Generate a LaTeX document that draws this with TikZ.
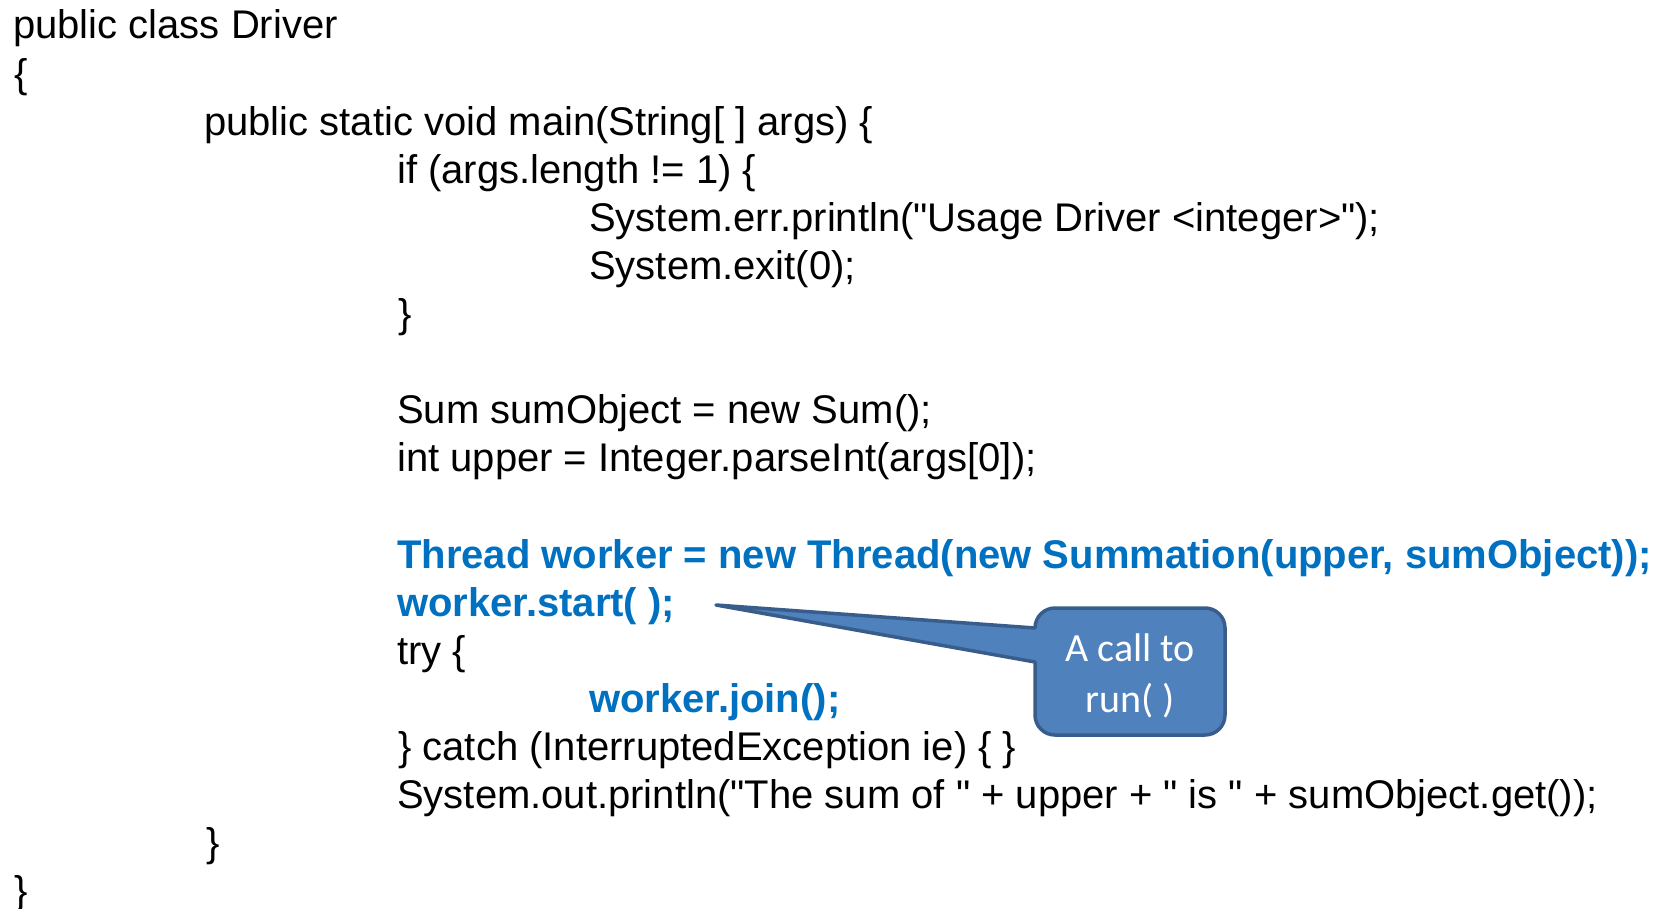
\documentclass[tikz,border=0pt]{standalone}
\usepackage{fontspec}
\setmainfont{Liberation Sans}[Ligatures=TeXOff]
\newfontfamily\calibri{Carlito}
\definecolor{codeblue}{HTML}{0070C0}
\definecolor{callfill}{HTML}{4F81BD}
\definecolor{callline}{HTML}{385D8A}
\begin{document}
\begin{tikzpicture}[x=1pt,y=-1pt,
  code/.style={anchor=base west, inner sep=0pt, font=\fontsize{40}{48}\selectfont},
  hl/.style={code, text=codeblue, font=\fontsize{40}{48}\selectfont\bfseries},
  calltext/.style={anchor=base, inner sep=0pt, text=white, font=\calibri\fontsize{40}{48}\selectfont},
  callout/.style={fill=callfill, draw=callline, line width=3.5pt, line join=round}]
\useasboundingbox (0,0) rectangle (1656,909);

\node[code] (l0) at (13,39) {public class Driver};
\node[code] (l1) at (14,87.1) {\{};
\node[code] (l2) at (204,135.2) {public static void main(String[ ] args) \{};
\node[code] (l3) at (397,183.3) {if (args.length != 1) \{};
\node[code] (l4) at (589,231.4) {System.err.println("Usage Driver <integer>");};
\node[code] (l5) at (589,279.5) {System.exit(0);};
\node[code] (l6) at (398,327.6) {\}};
\node[code] (l8) at (397,423.8) {Sum sumObject = new Sum();};
\node[code] (l9) at (397,471.9) {int upper = Integer.parseInt(args[0]);};
\node[hl] (l11) at (397,568.1) {Thread worker = new Thread(new Summation(upper, sumObject));};
\node[hl] (l12) at (397,616.2) {worker.start( );};
\node[code] (l13) at (397,664.3) {try \{};
\node[hl] (l14) at (589,712.4) {worker.join();};
\node[code] (l15) at (398,760.5) {\} catch (InterruptedException ie) \{ \}};
\node[code] (l16) at (397,808.6) {System.out.println("The sum of " + upper + " is " + sumObject.get());};
\node[code] (l17) at (206,856.7) {\}};
\node[code] (l18) at (14,904.8) {\}};

% callout
\coordinate (tip) at (716,605);
\coordinate (b1) at (1035,628);
\coordinate (b2) at (1035,662);
\draw[callout] (tip) -- (b1) [rounded corners=20pt] -- (1035,608) -- (1225,608) -- (1225,735) -- (1035,735) [sharp corners] -- (b2) -- cycle;
\node[calltext] (c1) at (1130,661) {A call to};
\node[calltext] (c2) at (1130,712) {run( )};
\end{tikzpicture}
\end{document}
